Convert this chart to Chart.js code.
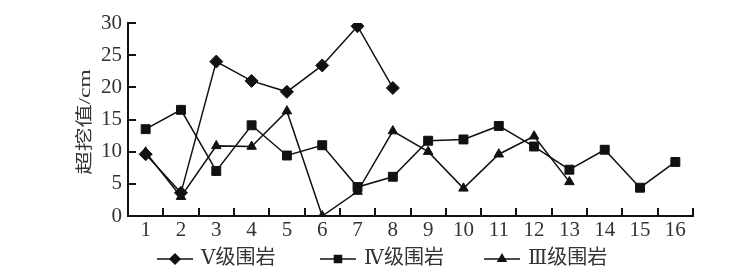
<!DOCTYPE html>
<html>
<head>
<meta charset="utf-8">
<script src="https://cdn.jsdelivr.net/npm/chart.js@4"></script>
<style>
  html, body { margin: 0; background: #fff; }
</style>
</head>
<body>
<canvas id="chart" width="754" height="274"></canvas>
<script>
const categories = ['1', '2', '3', '4', '5', '6', '7', '8', '9', '10', '11', '12', '13', '14', '15', '16'];
const seriesNames = ['Ⅴ级围岩', 'Ⅳ级围岩', 'Ⅲ级围岩'];
const gradeV = [9.6, 3.6, 24.0, 21.0, 19.3, 23.4, 29.5, 19.9];
const gradeIV = [13.5, 16.5, 7.0, 14.1, 9.4, 11.0, 4.5, 6.1, 11.7, 11.9, 14.0, 10.8, 7.2, 10.3, 4.4, 8.4];
const gradeIII = [9.9, 3.0, 10.9, 10.8, 16.3, 0, 3.8, 13.2, 10.0, 4.3, 9.6, 12.4, 5.3];
const yTicks = [0, 5, 10, 15, 20, 25, 30];
const yTitle = '超挖值/cm';

const ink = '#111';
const textInk = '#333';
const serif = "'Liberation Serif', 'Times New Roman', serif";

function series(label, data, style, radius) {
  return {
    label, data,
    borderColor: ink, backgroundColor: ink, borderWidth: 1.5,
    pointStyle: style, pointRadius: radius, pointHoverRadius: radius,
    pointBackgroundColor: ink, pointBorderColor: ink, pointBorderWidth: 1,
    tension: 0, fill: false
  };
}

const datasets = [
  series(seriesNames[0], gradeV, 'rectRot', 6.5),
  series(seriesNames[1], gradeIV, 'rect', 6.3),
  series(seriesNames[2], gradeIII, 'triangle', 5.5)
];

// inward tick marks, rotated y title and the bottom legend
const decorations = {
  id: 'decorations',
  afterDraw(chart) {
    const ctx = chart.ctx;
    const xs = chart.scales.x, ys = chart.scales.y;
    ctx.save();
    ctx.strokeStyle = ink;
    ctx.lineWidth = 2;
    ctx.beginPath();
    for (let i = 0; i <= categories.length; i++) {
      const px = Math.round(xs.getPixelForValue(i - 0.5));
      ctx.moveTo(px, ys.bottom);
      ctx.lineTo(px, ys.bottom - 8);
    }
    yTicks.forEach(v => {
      const py = Math.round(ys.getPixelForValue(v));
      ctx.moveTo(xs.left, py);
      ctx.lineTo(xs.left + 8, py);
    });
    ctx.stroke();

    // the title glyphs are stretched along the text direction in the original
    ctx.fillStyle = textInk;
    ctx.font = "17px " + serif + ", 'Noto Sans CJK SC'";
    ctx.translate(86, 122);
    ctx.rotate(-Math.PI / 2);
    ctx.scale(1.38, 1);
    ctx.textAlign = 'center';
    ctx.textBaseline = 'middle';
    ctx.fillText(yTitle, 0, 0);
    ctx.restore();

    const legendX = [157, 320, 484];
    const legendY = 259;
    ctx.save();
    chart.data.datasets.forEach((ds, i) => {
      const x0 = legendX[i];
      ctx.strokeStyle = ink;
      ctx.fillStyle = ink;
      ctx.lineWidth = 1.5;
      ctx.beginPath();
      ctx.moveTo(x0, legendY);
      ctx.lineTo(x0 + 36, legendY);
      ctx.stroke();
      Chart.helpers.drawPoint(ctx, {
        pointStyle: ds.pointStyle, radius: ds.pointStyle === 'triangle' ? 4.5 : 5,
        rotation: 0, borderWidth: 1
      }, x0 + 18, legendY);
      ctx.fillStyle = textInk;
      ctx.font = "20px 'DejaVu Serif', 'Noto Sans CJK SC'";
      ctx.textAlign = 'left';
      ctx.textBaseline = 'middle';
      ctx.fillText(ds.label, x0 + 44, legendY);
    });
    ctx.restore();
  }
};

new Chart(document.getElementById('chart'), {
  type: 'line',
  data: { labels: categories, datasets },
  options: {
    responsive: false,
    animation: false,
    layout: { padding: { top: 23, right: 61, left: 0, bottom: 0 } },
    plugins: { legend: { display: false }, tooltip: { enabled: false } },
    scales: {
      x: {
        offset: true,
        grid: { display: false, drawTicks: false, offset: true },
        border: { display: true, color: ink, width: 2 },
        ticks: { color: textInk, padding: 2, font: { family: serif, size: 21 }, maxRotation: 0, autoSkip: false },
        afterFit: s => { s.height = 58; }
      },
      y: {
        min: 0, max: 30,
        grid: { display: false, drawTicks: false },
        border: { display: true, color: ink, width: 2 },
        ticks: { stepSize: 5, color: textInk, padding: 6, font: { family: serif, size: 21 } },
        afterFit: s => { s.width = 128; }
      }
    }
  },
  plugins: [decorations]
});
</script>
</body>
</html>
